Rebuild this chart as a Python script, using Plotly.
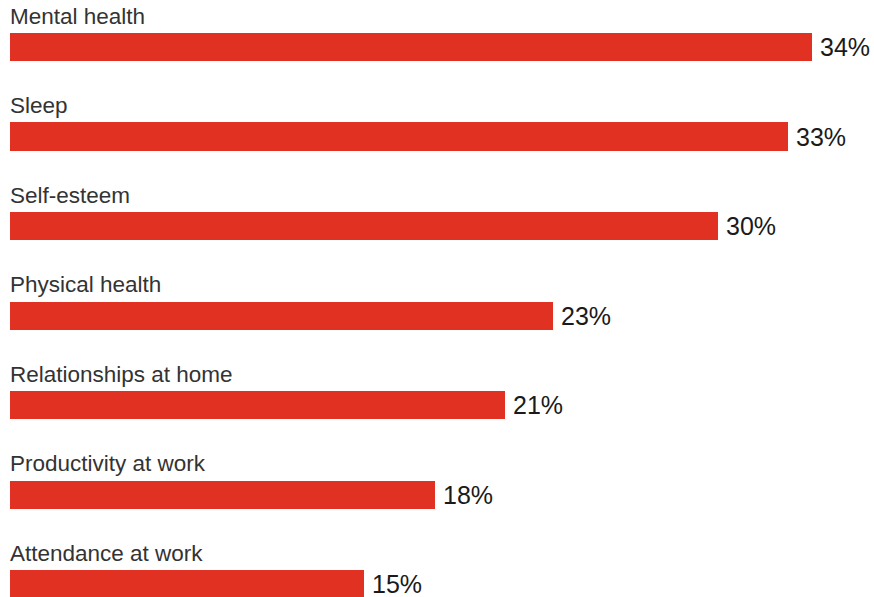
import plotly.graph_objects as go

categories = ["Mental health", "Sleep", "Self-esteem", "Physical health",
              "Relationships at home", "Productivity at work", "Attendance at work"]
values = [34, 33, 30, 23, 21, 18, 15]
value_labels = ["34%", "33%", "30%", "23%", "21%", "18%", "15%"]

ypos = list(range(len(categories)))
BAR = "#E03122"

fig = go.Figure()
fig.add_trace(go.Bar(
    x=values, y=ypos, orientation="h", width=0.313,
    marker=dict(color=BAR, line=dict(width=0)),
    hoverinfo="skip", showlegend=False,
))

for i, (c, v, t) in enumerate(zip(categories, values, value_labels)):
    fig.add_annotation(x=0, y=i - 0.346, text=c, xref="x", yref="y",
                       xanchor="left", yanchor="middle", showarrow=False, xshift=-2,
                       font=dict(family="Liberation Sans, Arial, sans-serif", size=22.5, color="#333333"))
    fig.add_annotation(x=v, y=i, text=t, xref="x", yref="y",
                       xanchor="left", yanchor="middle", showarrow=False, xshift=6,
                       font=dict(family="Liberation Sans, Arial, sans-serif", size=25, color="#1a1a1a"))

fig.update_xaxes(range=[-0.424, 36.63], visible=False, fixedrange=True)
fig.update_yaxes(range=[6.145, -0.525], visible=False, fixedrange=True)
fig.update_layout(
    width=874, height=597,
    margin=dict(l=0, r=0, t=0, b=0),
    paper_bgcolor="white", plot_bgcolor="white",
    bargap=0,
)
fig.write_html("out.html")
